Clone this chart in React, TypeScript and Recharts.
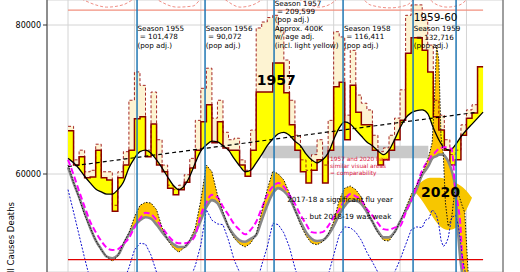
import React from 'react';
import {
  ComposedChart,
  XAxis,
  YAxis,
  CartesianGrid,
  Line,
  Area,
  ReferenceLine,
  ReferenceArea,
  ReferenceDot,
} from 'recharts';

const FONT = '"DejaVu Sans", Verdana, sans-serif';

// x axis unit = month index (0 = first month of the 1950s series)
const X_MIN = -3.8;
const X_MAX = 78.6;
const Y_MIN = 46846;
const Y_MAX = 83356;
const yearGrid = [0, 12, 24, 36, 48, 60, 72];
const yTicks = [60000, 80000];

// monthly all-cause deaths, 1950s (solid dark red steps)
const monthlyDeaths = [
  65800, 61200, 62300, 59500, 59600, 63200, 59500, 59200, 55000, 59500, 61200, 63200,
  67400, 67700, 62300, 66700, 61200, 60300,
  58100, 57200, 57900, 58900, 60800, 63200,
  67000, 69300, 64200, 67000, 63500, 63200, 63200, 61200, 59700, 63200,
  71000, 71000, 71000, 74900, 74900, 70900, 66600, 63200,
  60300, 58800, 60500, 61900, 58800, 63200,
  71700, 72300, 64600, 71900, 68300, 66600, 66600, 63200, 61200, 61900, 63200, 64600, 67200,
  76200, 78300, 78300, 76600, 73700, 67700, 65900, 63200, 61200, 61900, 65200, 67500, 68200, 74400,
];

// age-adjusted monthly deaths (dashed steps, light yellow fill)
const ageAdjusted = [
  66400, 61900, 63200, 60300, 60500, 64000, 60300, 60300, 55800, 60300, 63000, 69900,
  73700, 71900, 63200, 71000, 64600, 61200,
  58500, 57900, 58500, 59900, 62100, 67200,
  71500, 74200, 67500, 69900, 65600, 64600, 64800, 61900, 60500, 65900,
  79600, 80400, 81000, 81300, 79300, 75300, 69900, 65200,
  61900, 60500, 62600, 64600, 61200, 67200,
  79100, 78400, 67900, 76600, 70600, 69500, 68600, 65200, 63000, 63500, 65200, 67500, 71300,
  81300, 82700, 82700, 80700, 77300, 69900, 67900, 64600, 62600, 63200, 66600, 68600, 69300, 74400,
];

// seasonal baseline (solid black)
const baseline = [
  62100, 61500, 60700, 59700, 58800, 58000, 57600, 57300, 57300, 57900, 58900, 60800,
  62100, 63000, 63200, 62800, 61900, 60800, 59600, 58500, 57900, 58400, 59700, 61500,
  63100, 63900, 64400, 64300, 63800, 63200, 62100, 61100, 60300, 60500, 61500, 62600,
  63800, 64700, 65400, 65600, 65200, 64400, 63800, 62700, 61900, 61500, 61900, 62800,
  64600, 66200, 67000, 66700, 65900, 65100, 64300, 63800, 63100, 62600, 63200, 64600,
  66200, 67500, 68200, 68500, 68600, 68100, 66200, 64600, 63500, 63200, 63900, 65000,
  65900, 66700, 67500, 68300,
];

const trendX = [0, 74];
const trendY = [61000, 68300];

// weekly 2015-2020 overlay, sampled on this x grid
const weekX = [
  0, 1, 2, 3, 4, 5, 6, 7, 8, 9, 10, 11, 12, 13, 14, 15, 16, 17, 18, 19,
  20, 21, 22, 23, 24, 25, 26, 27, 28, 29, 30, 31, 32, 33, 34, 35, 36, 37, 38, 39,
  40, 41, 42, 43, 44, 45, 46, 47, 48, 49, 50, 51, 52, 53, 54, 55, 56, 57, 58, 59,
  60, 61, 62, 63, 64,
  64.6, 65.2, 65.8, 66.2, 66.6, 67, 67.4, 67.8, 68.2, 68.7, 69.3, 70, 70.5, 70.9, 71.2, 71.7, 72.3, 72.6,
];
const weekExpected = [
  60900, 58800, 56900, 54800, 52800, 51100, 49900, 48900, 48700, 49100,
  50500, 51900, 53000, 53800, 54200, 54000, 53200, 52200, 51300, 50600,
  50200, 50200, 51000, 52100, 53800, 55600, 56500, 56100, 54600, 52900,
  51800, 51100, 50900, 51300, 51800, 53800, 55800, 57400, 58100, 57700,
  56800, 55200, 53600, 52200, 51300, 51000, 51100, 51800, 53000, 54500,
  55700, 56400, 56400, 56000, 54900, 53600, 52300, 51500, 51500, 52200,
  53600, 55000, 56500, 58000, 59900,
  60500, 61200, 62100, 62300, 62400, 62600, 62600, 62600, 62300, 61700, 60500, 57900, 52100, 48500, 46800, 43100, 41700, 41700,
];
const weekAgeAdj = [
  61900, 59900, 57700, 55600, 53600, 52200, 51000, 50100, 49800, 49900,
  50600, 51400, 52800, 54000, 54800, 54600, 53800, 52800, 51800, 51000,
  50700, 50700, 50900, 51800, 54500, 56200, 57200, 56900, 55600, 54500,
  53300, 52500, 51900, 52500, 53600, 55400, 57200, 58300, 58800, 58300,
  57200, 56000, 54500, 53300, 52200, 52100, 52200, 53000, 54200, 55200,
  56500, 57300, 57000, 56500, 55300, 54400, 53400, 52600, 52500, 52800,
  53000, 54800, 56400, 58400, 60500,
  61300, 61900, 62600, 62800, 63100, 63400, 63500, 63600, 63600, 63500, 63400, 57900, 55600, 53200, 49100, 44400, 41700, 41700,
];
const weekActual = [
  61200, 58900, 56800, 54500, 52800, 51100, 49800, 48900, 48300, 49000,
  50700, 52100, 54200, 55800, 56200, 56100, 55200, 52800, 51100, 50100,
  49500, 50100, 51100, 52800, 56500, 61200, 60300, 57200, 54900, 52800,
  51400, 50600, 50200, 50700, 51900, 54900, 57900, 60400, 60000, 59200,
  57400, 55200, 53200, 51700, 50700, 50500, 50900, 51900, 53600, 56500,
  58100, 58400, 57900, 56900, 55200, 53600, 52100, 51100, 51000, 52100,
  53600, 55400, 57200, 58500, 60100,
  61100, 62400, 64200, 69900, 77300, 75300, 65100, 62800, 56100, 53000, 54000, 58400, 57400, 56500, 55800, 54800, 46800, 43100,
];
const weekFlu = [
  57900, 54900, 51800, 48700, 45800, 43800, 42400, 41700, 42400, 43800,
  45500, 47400, 49800, 50700, 50600, 49100, 46800, 44400, 43100, 42400,
  43100, 43800, 45800, 47700, 50500, 55200, 53800, 53300, 53200, 51100,
  48500, 46800, 44400, 43800, 45100, 47800, 50200, 53400, 53200, 52100,
  50200, 47400, 45100, 43800, 43100, 43400, 44400, 46400, 49100, 51800,
  52900, 52800, 52200, 51100, 49500, 48200, 46800, 45100, 45100, 46800,
  48500, 50500, 52500, 52900, 52800,
  53800, 54000, 55200, 54900, 54400, 53200, 51100, 50300, 50500, 51400, 54100, 54500, 53200, 51100, 49100, 47100, 44400, 43100,
];

// faint upper reference curve
const topX = [
  0, 2.7, 5, 7, 9.9, 11.7, 13.9, 16.1, 19.7, 22.6, 23.9, 26.6, 28.4, 31.1, 33.4, 35.1, 38.3,
  41.9, 43.7, 45.5, 47.4, 49.2, 51.9, 54.6, 58.2, 61.3, 62.4, 64.5, 66.0, 68.5, 70.8, 72.1, 74.5,
];
const topY = [
  84400, 83400, 82700, 82400, 82700, 83400, 84400, 83400, 82400, 82550, 83400, 84400, 83400,
  82400, 82700, 83400, 84400, 83400, 82700, 82400, 82800, 83800, 84400, 82700, 82300, 82700,
  83400, 84200, 83000, 82400, 82700, 83400, 84200,
];

// 2020 excess area (gold)
const goldX = [62.35, 63.6, 65.4, 67.2, 68.7, 70.1, 71.8, 73.0];
const goldTop = [57900, 58800, 59500, 59500, 59200, 58800, 57900, 56800];
const goldBottom = [57900, 56800, 54800, 53000, 52500, 52800, 54900, 56800];

const seasonLines = [12.47, 24.76, 37.23, 49.7, 62.35, 70.12];

const notes = [
  { x: 12.55, y: 79250, size: 7.2, lh: 8.5, weight: 400, color: '#000', lines: ['Season 1955', '\u00a0= 101,478', '(pop adj.)'] },
  { x: 24.9, y: 79250, size: 7.2, lh: 8.5, weight: 400, color: '#000', lines: ['Season 1956', '\u00a0= 90,072', '(pop adj.)'] },
  {
    x: 37.35, y: 82600, size: 7.2, lh: 8.4, weight: 400, color: '#000',
    lines: ['Season 1957', '\u00a0= 209,599', '(pop adj.)', 'Approx. 400K', 'w/ age adj.', '(incl. light yellow)'],
  },
  { x: 49.85, y: 79250, size: 7.2, lh: 8.5, weight: 400, color: '#000', lines: ['Season 1958', '\u00a0= 116,411', '(pop adj.)'] },
  { x: 62.45, y: 80500, size: 10.5, lh: 0, weight: 400, color: '#000', lines: ['1959-60'] },
  { x: 62.45, y: 79150, size: 7.2, lh: 8.5, weight: 400, color: '#000', lines: ['Season 1959', '\u00a0= 132,716', '(pop adj.)'] },
  { x: 34.1, y: 71950, size: 14, lh: 0, weight: 700, color: '#000', lines: ['1957'] },
  { x: 63.8, y: 56900, size: 14, lh: 0, weight: 700, color: '#000', lines: ['2020'] },
  { x: 39.6, y: 56300, size: 7.2, lh: 0, weight: 400, color: '#000', lines: ['2017-18 a significant flu year'] },
  { x: 42.0, y: 54000, size: 7.2, lh: 0, weight: 400, color: '#000', lines: ['... but 2018-19 was weak'] },
  {
    x: 47.35, y: 61700, size: 5.8, lh: 7, weight: 400, color: '#dc143c',
    lines: ['1957 and 2020 have', 'similar visual areas', '= comparability'],
  },
];

const stepRows = monthlyDeaths.flatMap((v, m) => [
  { x: m, step: v, adj: ageAdjusted[m], base: baseline[m] },
  { x: m + 1, step: v, adj: ageAdjusted[m], base: baseline[m + 1] },
]);
const baseRows = baseline.map((y, m) => ({ x: m, y }));
const trendRows = trendX.map((x, i) => ({ x, y: trendY[i] }));
const weekRows = weekX.map((x, i) => ({
  x,
  expected: weekExpected[i],
  ageAdj: weekAgeAdj[i],
  actual: weekActual[i],
  flu: weekFlu[i],
}));
const topRows = topX.map((x, i) => ({ x, y: topY[i] }));
const goldRows = goldX.map((x, i) => ({ x, lo: goldBottom[i], hi: goldTop[i] }));

type NoteDef = (typeof notes)[number];

const noteLabel = (n: NoteDef) => (props: any) => {
  const vb = props.viewBox || {};
  const x = vb.x ?? 0;
  const y = vb.y ?? 0;
  return (
    <text x={x} y={y} fontSize={n.size} fontWeight={n.weight} fill={n.color} fontFamily={FONT}>
      {n.lines.map((t, i) => (
        <tspan key={i} x={x} dy={i === 0 ? 0 : n.lh}>
          {t}
        </tspan>
      ))}
    </text>
  );
};

const yLabel = (props: any) => {
  const vb = props.viewBox || { x: 0, y: 0 };
  const x = vb.x + 14;
  const y = vb.y + 202;
  return (
    <text x={x} y={y} transform={`rotate(-90, ${x}, ${y})`} textAnchor="end" fontSize={8.5} fill="#000" fontFamily={FONT}>
      All Causes Deaths
    </text>
  );
};

export default function App() {
  return (
    <div style={{ position: 'absolute', left: 0, top: 0, width: 520, height: 272, background: '#fff' }}>
      <ComposedChart width={520} height={272} margin={{ top: 0, right: 17, bottom: 0, left: 0 }}>
        <CartesianGrid stroke="#d4d4d4" strokeWidth={1} />
        <XAxis
          type="number"
          dataKey="x"
          domain={[X_MIN, X_MAX]}
          ticks={yearGrid}
          allowDataOverflow
          hide
        />
        <YAxis
          type="number"
          domain={[Y_MIN, Y_MAX]}
          ticks={yTicks}
          allowDataOverflow
          width={47}
          tickSize={4}
          tick={{ fontSize: 8, fill: '#000', fontFamily: FONT }}
          axisLine={{ stroke: '#333' }}
          tickLine={{ stroke: '#333' }}
          label={{ content: yLabel }}
        />

        <ReferenceArea x1={35.1} x2={65.1} y1={62100} y2={63800} fill="#c9c9c9" fillOpacity={1} stroke="none" />

        {/* 1950s monthly */}
        <Area
          data={stepRows}
          dataKey={(d: any) => [d.step, d.adj]}
          type="linear"
          fill="#fdf3d2"
          fillOpacity={1}
          stroke="none"
          isAnimationActive={false}
          dot={false}
          activeDot={false}
        />
        <Area
          data={stepRows}
          dataKey={(d: any) => [d.base, d.step]}
          type="linear"
          fill="#ffff00"
          fillOpacity={1}
          stroke="none"
          isAnimationActive={false}
          dot={false}
          activeDot={false}
        />
        <Line data={stepRows} dataKey="adj" type="linear" stroke="#9b1010" strokeWidth={0.9} strokeDasharray="3 2" dot={false} activeDot={false} isAnimationActive={false} />
        <Line data={stepRows} dataKey="step" type="linear" stroke="#8b0000" strokeWidth={1.5} dot={false} activeDot={false} isAnimationActive={false} />
        <Line data={baseRows} dataKey="y" type="monotone" stroke="#000" strokeWidth={1.3} dot={false} activeDot={false} isAnimationActive={false} />
        <Line data={trendRows} dataKey="y" type="linear" stroke="#000" strokeWidth={1.2} strokeDasharray="4 3" dot={false} activeDot={false} isAnimationActive={false} />

        {/* 2015-2020 weekly */}
        <Area
          data={goldRows}
          dataKey={(d: any) => [d.lo, d.hi]}
          type="monotone"
          fill="#f7c600"
          fillOpacity={1}
          stroke="none"
          isAnimationActive={false}
          dot={false}
          activeDot={false}
        />
        <Area
          data={weekRows}
          dataKey={(d: any) => [d.expected, d.actual]}
          type="linear"
          fill="#ffc400"
          fillOpacity={1}
          stroke="none"
          isAnimationActive={false}
          dot={false}
          activeDot={false}
        />
        <Line data={weekRows} dataKey="expected" type="monotone" stroke="#888" strokeWidth={2.6} dot={false} activeDot={false} isAnimationActive={false} />
        <Line data={weekRows} dataKey="ageAdj" type="monotone" stroke="#ff00ff" strokeWidth={2} strokeDasharray="6 3" dot={false} activeDot={false} isAnimationActive={false} />
        <Line data={weekRows} dataKey="actual" type="linear" stroke="#111" strokeWidth={1} strokeDasharray="1.5 1.5" dot={false} activeDot={false} isAnimationActive={false} />
        <Line data={weekRows} dataKey="flu" type="linear" stroke="#1010d0" strokeWidth={1} strokeDasharray="2 1.5" dot={false} activeDot={false} isAnimationActive={false} />

        <Line data={topRows} dataKey="y" type="monotone" stroke="#ef8f86" strokeWidth={1} strokeDasharray="3 2" dot={false} activeDot={false} isAnimationActive={false} />
        <ReferenceLine segment={[{ x: 0, y: 82000 }, { x: 75, y: 82000 }]} stroke="#f2907f" strokeWidth={1.2} />
        <ReferenceLine segment={[{ x: 0, y: 48500 }, { x: 75, y: 48500 }]} stroke="#e00000" strokeWidth={1.3} />

        {seasonLines.map((x) => (
          <ReferenceLine key={x} x={x} stroke="#1f77b4" strokeWidth={1.5} />
        ))}
        <ReferenceLine x={X_MAX} stroke="#555" strokeWidth={1} />

        {notes.map((n, i) => (
          <ReferenceDot
            key={i}
            x={n.x}
            y={n.y}
            r={0}
            fill="none"
            stroke="none"
            ifOverflow="visible"
            label={{ content: noteLabel(n) }}
          />
        ))}
      </ComposedChart>
    </div>
  );
}
